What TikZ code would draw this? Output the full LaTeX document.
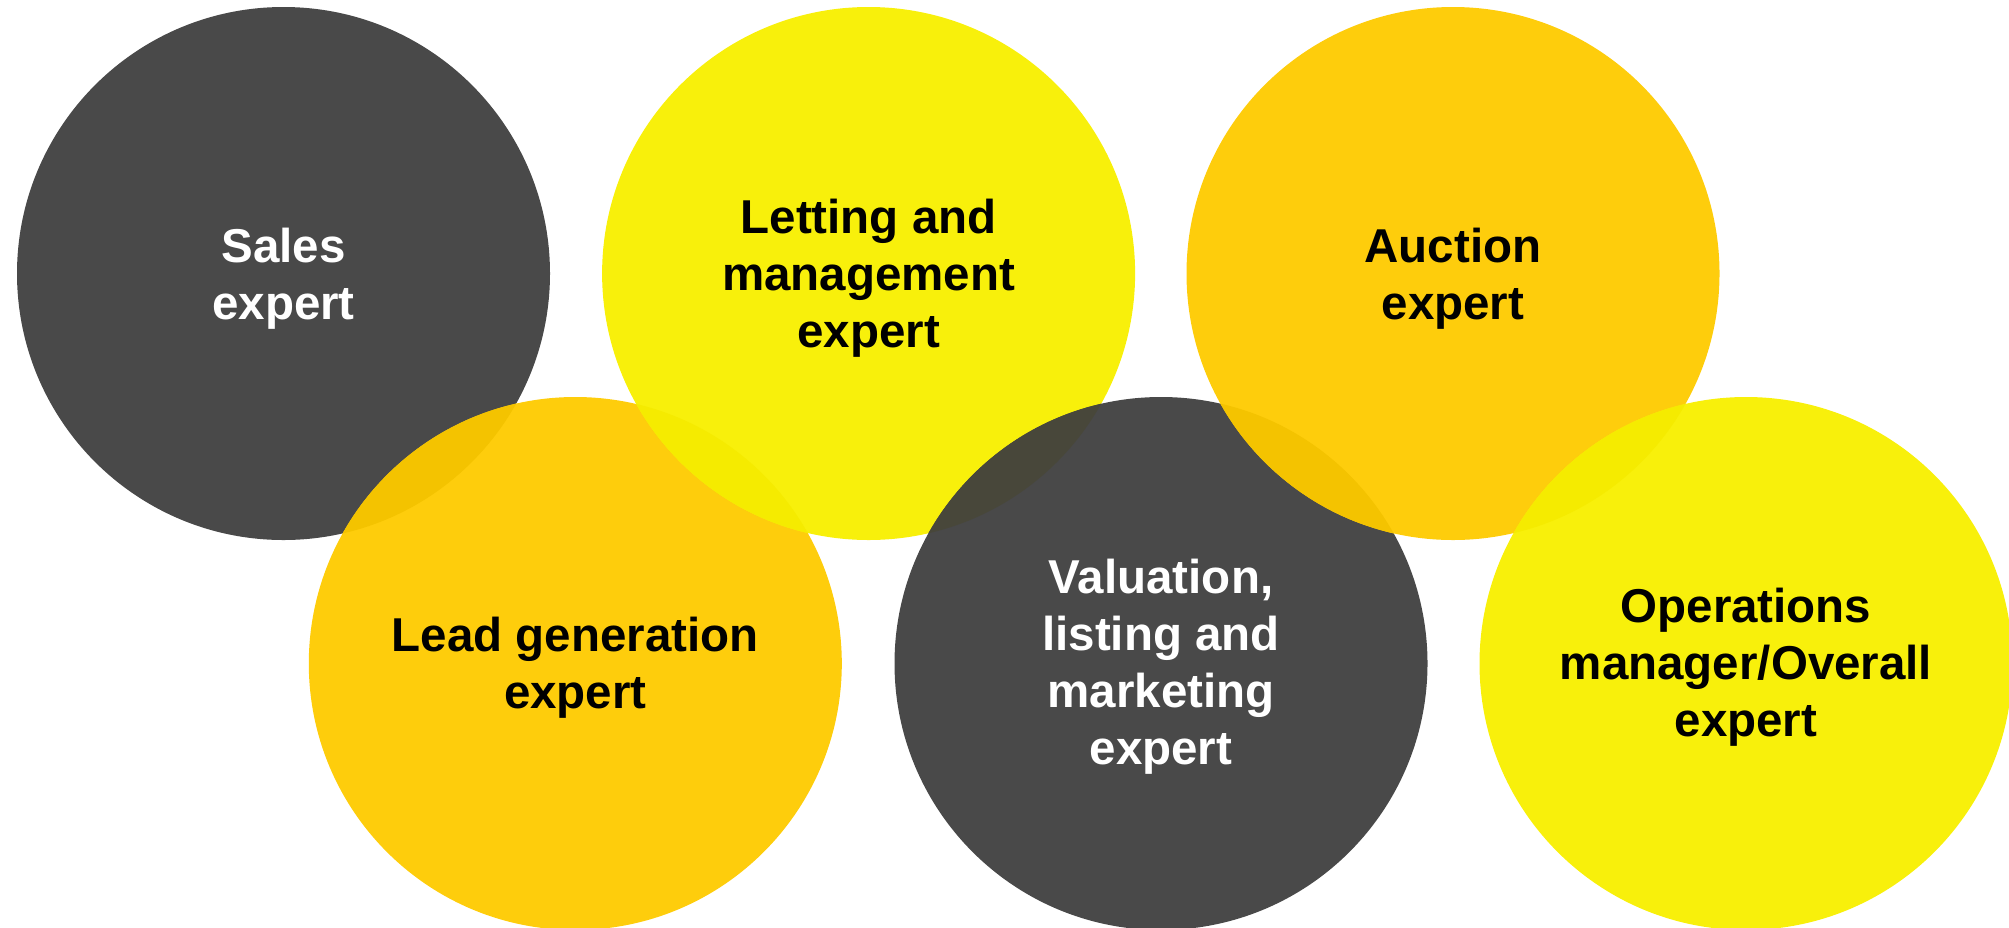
\documentclass[tikz,border=0pt]{standalone}
\usepackage{fontspec}
\setmainfont{Liberation Sans}
\definecolor{darkc}{HTML}{494949}
\definecolor{yellowc}{HTML}{F8F00B}
\definecolor{amberc}{HTML}{FECD0C}
\definecolor{ovamberdark}{HTML}{F4C300}
\definecolor{ovyellowamber}{HTML}{F5EB00}
\definecolor{ovdarkyellow}{HTML}{48473A}
\tikzset{
  disc/.style={circle, minimum size=533pt, inner sep=0pt, draw=none},
  txt/.style={align=center, inner sep=0pt, font=\fontsize{47.5}{57}\selectfont\bfseries},
}
\begin{document}
\begin{tikzpicture}[x=1pt,y=1pt]
\useasboundingbox (0,0) rectangle (2009,-927);
% circles, drawn in stacking order
\node[disc, fill=darkc]   (sales)   at (283.5,-273.5) {};
\node[disc, fill=amberc]  (lead)    at (575.3,-663.5) {};
\node[disc, fill=yellowc] (letting) at (868.6,-273.5) {};
\node[disc, fill=darkc]   (valu)    at (1161,-663.5) {};
\node[disc, fill=amberc]  (auction) at (1453,-273.5) {};
\node[disc, fill=yellowc] (oper)    at (1746,-663.5) {};
% overlaps
\begin{scope}
  \clip (sales.center) circle (266.5);
  \fill[ovamberdark] (lead.center) circle (266.5);
\end{scope}
\begin{scope}
  \clip (lead.center) circle (266.5);
  \fill[ovyellowamber] (letting.center) circle (266.5);
\end{scope}
\begin{scope}
  \clip (letting.center) circle (266.5);
  \fill[ovdarkyellow] (valu.center) circle (266.5);
\end{scope}
\begin{scope}
  \clip (valu.center) circle (266.5);
  \fill[ovamberdark] (auction.center) circle (266.5);
\end{scope}
\begin{scope}
  \clip (auction.center) circle (266.5);
  \fill[ovyellowamber] (oper.center) circle (266.5);
\end{scope}
% texts
\node[txt, text=white] (salesT)   at ([yshift=-5pt]sales.center)   {Sales\\expert};
\node[txt, text=black] (leadT)    at ([yshift=-4pt]lead.center)    {Lead generation\\expert};
\node[txt, text=black] (lettingT) at ([yshift=-5pt]letting.center) {Letting and\\management\\expert};
\node[txt, text=white] (valuT)    at ([yshift=-3pt]valu.center)    {Valuation,\\listing and\\marketing\\expert};
\node[txt, text=black] (auctionT) at ([yshift=-5pt]auction.center) {Auction\\expert};
\node[txt, text=black] (operT)    at ([yshift=-4pt]oper.center)    {Operations\\manager/Overall\\expert};
\end{tikzpicture}
\end{document}
